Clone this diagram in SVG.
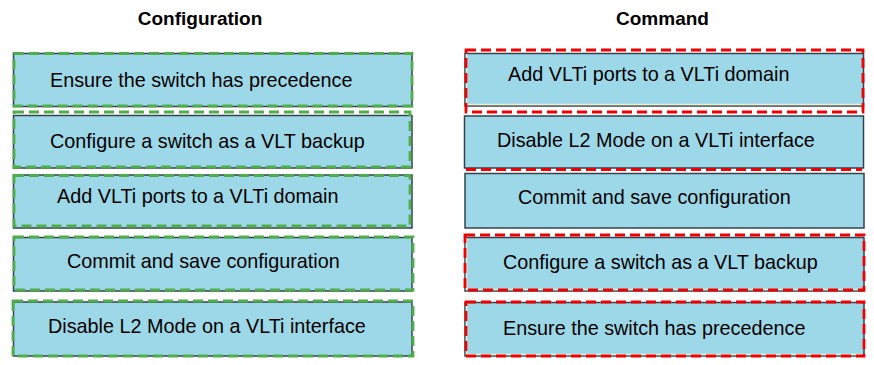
<svg xmlns="http://www.w3.org/2000/svg" width="874" height="365" viewBox="0 0 874 365">
<style>
.bg{fill:#ffffff}
.box{fill:#9dd8e9;stroke:#34424c;stroke-width:1.5}
.g{fill:none;stroke:#4fae4a;stroke-width:2.8;stroke-dasharray:10 5}
.r{fill:none;stroke:#f00000;stroke-width:2.8;stroke-dasharray:10 5}
.cream{fill:none;stroke:#f3ead0;stroke-width:1.5}
.t{font-family:"Liberation Sans",Arial,sans-serif;font-size:19.8px;fill:#000}
.h{font-family:"Liberation Sans",Arial,sans-serif;font-size:19px;font-weight:bold;fill:#000;text-anchor:middle}
</style>
<rect class="bg" x="0" y="0" width="874" height="365"/>
<g id="headers">
<text class="h" x="200" y="25">Configuration</text>
<text class="h" x="662.5" y="25">Command</text>
</g>
<g id="cfg1">
<rect class="box" x="13.5" y="53.5" width="398.5" height="53"/>
<rect class="g" x="14" y="53.5" width="398" height="52.5"/>
<text class="t" x="50" y="87">Ensure the switch has precedence</text>
</g>
<g id="cfg2">
<rect class="box" x="13.5" y="115.5" width="398.5" height="52.5"/>
<rect class="g" x="14" y="112" width="396" height="55"/>
<text class="t" x="50" y="148">Configure a switch as a VLT backup</text>
</g>
<g id="cfg3">
<rect class="box" x="13.5" y="175" width="398.5" height="53"/>
<rect class="g" x="14" y="175.5" width="396" height="50.5"/>
<text class="t" x="57" y="203">Add VLTi ports to a VLTi domain</text>
</g>
<g id="cfg4">
<rect class="box" x="13.5" y="237.5" width="398.5" height="53.5"/>
<rect class="g" x="14" y="237" width="399" height="53"/>
<text class="t" x="67" y="268">Commit and save configuration</text>
</g>
<g id="cfg5">
<rect class="box" x="13.5" y="302" width="398.5" height="54"/>
<rect class="g" x="13" y="301" width="400" height="55"/>
<text class="t" x="48" y="333">Disable L2 Mode on a VLTi interface</text>
</g>
<g id="cmd1">
<rect class="box" x="465" y="53.5" width="398.5" height="52.5"/>
<polyline class="cream" points="466.5,54 466.5,104.5 862,104.5"/>
<rect class="r" x="466" y="50" width="397" height="62"/>
<text class="t" x="508" y="81">Add VLTi ports to a VLTi domain</text>
</g>
<g id="cmd2">
<rect class="box" x="464.5" y="116" width="399" height="52"/>
<line class="r" x1="466" y1="169.5" x2="862" y2="169.5"/>
<text class="t" x="497" y="147">Disable L2 Mode on a VLTi interface</text>
</g>
<g id="cmd3">
<rect class="box" x="465" y="173.5" width="399" height="54.5"/>
<text class="t" x="518" y="204">Commit and save configuration</text>
</g>
<g id="cmd4">
<rect class="box" x="465" y="237.5" width="399" height="53.5"/>
<polyline class="cream" points="466.5,238 466.5,289.5 862,289.5"/>
<rect class="r" x="465" y="235" width="399" height="55"/>
<text class="t" x="503" y="269">Configure a switch as a VLT backup</text>
</g>
<g id="cmd5">
<rect class="box" x="465" y="302.5" width="399" height="53.5"/>
<polyline class="cream" points="466.5,303 466.5,354.5 862,354.5"/>
<rect class="r" x="466" y="302" width="398" height="54"/>
<text class="t" x="503" y="335">Ensure the switch has precedence</text>
</g>
</svg>
